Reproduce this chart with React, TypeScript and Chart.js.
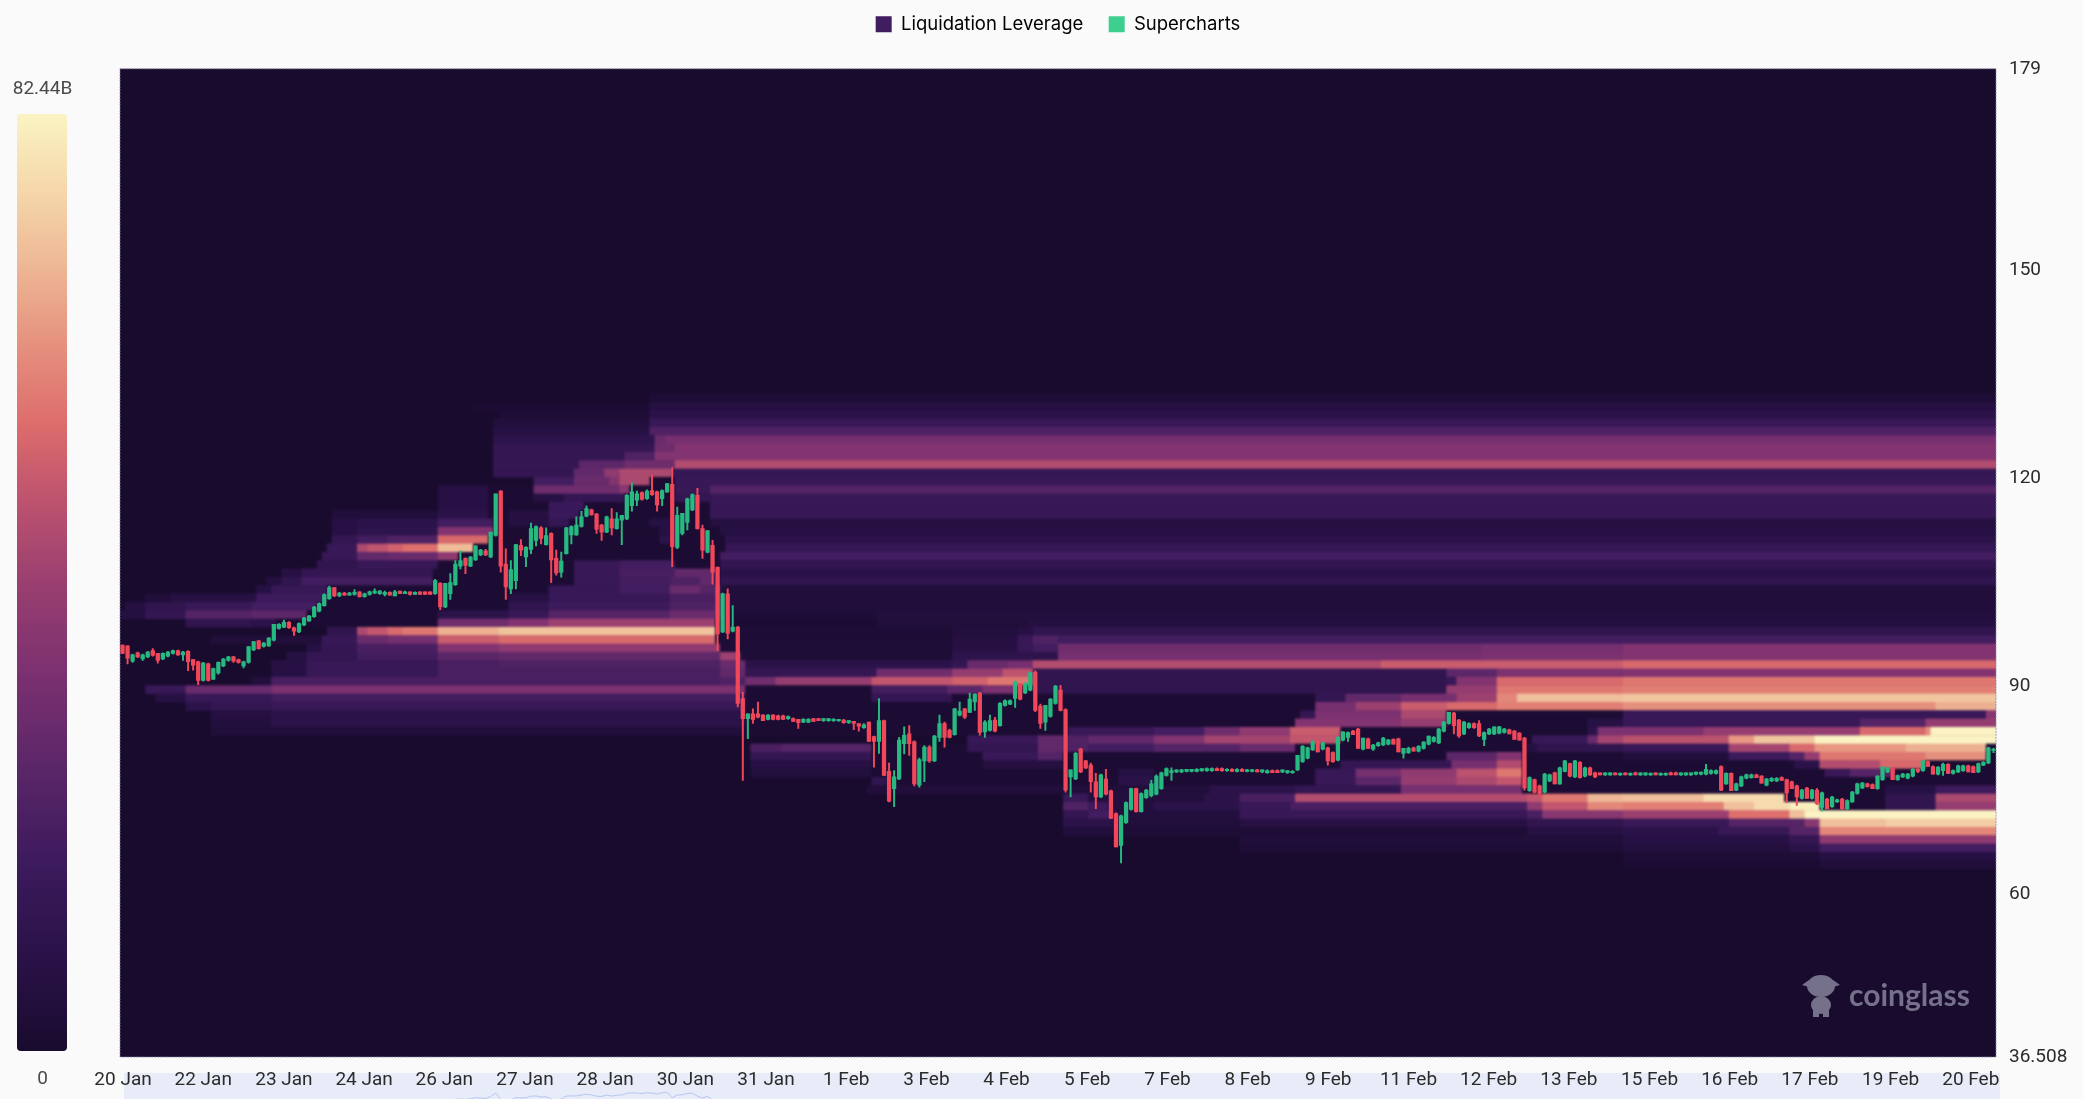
import React, { useEffect, useRef } from "react";
import { Chart, registerables } from "chart.js";

Chart.register(...registerables);

const legendNames = ["Liquidation Leverage", "Supercharts"];
const legendColors = ["#3f1d5e", "#3ccf8e"];
const xLabels = ["20 Jan", "22 Jan", "23 Jan", "24 Jan", "26 Jan", "27 Jan", "28 Jan", "30 Jan", "31 Jan", "1 Feb", "3 Feb", "4 Feb", "5 Feb", "7 Feb", "8 Feb", "9 Feb", "11 Feb", "12 Feb", "13 Feb", "15 Feb", "16 Feb", "17 Feb", "19 Feb", "20 Feb"];
const xTicks = [0.6, 16.5, 32.5, 48.4, 64.3, 80.3, 96.2, 112.1, 128.1, 144, 159.9, 175.8, 191.8, 207.7, 223.6, 239.6, 255.5, 271.4, 287.3, 303.3, 319.2, 335.1, 351.1, 367];
const yTicks = [179, 150, 120, 90, 60, 36.508];
const slotCount = 372;
const rowStep = 1.2;

// colour bar, level 0-100
const colorStops: [number, string][] = [
  [0, "#190b2e"], [10, "#2a1248"], [20, "#3c1a5c"], [30, "#5a2668"], [40, "#7a3070"], [50, "#9a3f70"],
  [60, "#c2566e"], [67, "#dd6d6c"], [75, "#e58f7d"], [84, "#eeb896"], [92, "#f5d8ab"], [100, "#fbf3c3"],
];

// heat rows: top price of the row, then [from slot, level] steps
const heatRows: [number, [number, number][]][] = [
  [132.16, [[105, 2]]],
  [130.96, [[70, 1], [105, 5]]],
  [129.76, [[75, 2], [105, 8]]],
  [128.56, [[74, 4], [105, 14]]],
  [127.36, [[74, 6], [105, 22]]],
  [126.15, [[74, 9], [106, 30], [108, 34]]],
  [124.95, [[74, 12], [106, 32], [110, 38]]],
  [123.75, [[74, 12], [100, 22], [106, 38]]],
  [122.55, [[74, 13], [91, 26], [100, 32], [110, 52]]],
  [121.35, [[74, 12], [90, 28], [96, 42], [99, 50], [109.5, 13]]],
  [120.15, [[82, 18], [90, 30], [97, 38], [99, 50], [105, 1], [110, 14]]],
  [118.94, [[63, 6], [73, 1], [82, 32], [99, 40], [101, 1], [110, 14], [117, 24]]],
  [117.74, [[63, 6], [73, 1], [82, 6], [88, 12], [100, 1], [110, 12], [117, 14]]],
  [116.54, [[63, 6], [73, 1], [85, 15], [92, 1], [117, 14]]],
  [115.34, [[42, 3], [63, 8], [73, 1], [77, 5], [85, 15], [91, 1], [117, 14]]],
  [114.14, [[42, 6], [47, 8], [63, 18], [74, 1], [77, 5], [85, 12], [89, 1], [105, 6], [110, 1], [117, 5]]],
  [112.94, [[42, 6], [47, 9], [63, 38], [74, 1], [107, 6], [110, 1], [119, 6]]],
  [111.73, [[42, 12], [47, 18], [53, 22], [63, 62], [73, 1], [107, 8], [110, 1], [120, 8]]],
  [110.53, [[41, 14], [47, 50], [49, 55], [53, 60], [56, 64], [63, 83], [70, 1], [120, 13]]],
  [109.33, [[40, 14], [47, 28], [53, 30], [63, 42], [67, 1], [119, 18]]],
  [108.13, [[39, 10], [47, 14], [63, 1], [90, 14], [99, 18], [110, 1], [119, 11]]],
  [106.93, [[32, 6], [36, 12], [62, 1], [90, 14], [99, 20], [110, 28], [118, 1], [119, 7]]],
  [105.73, [[29, 5], [32, 10], [36, 18], [62, 1], [90, 14], [99, 18], [109, 22], [115, 28], [118, 1], [119, 10]]],
  [104.52, [[27, 6], [30, 14], [41, 1], [85, 14], [99, 18], [109, 30], [115, 24], [118, 30], [119, 3]]],
  [103.32, [[5, 3], [10, 6], [27, 16], [41, 1], [77, 6], [85, 14], [109, 20], [118, 30], [119, 3]]],
  [102.12, [[1, 5], [5, 10], [13, 14], [26, 18], [39, 1], [77, 10], [85, 16], [109, 22], [118, 30], [119, 3]]],
  [100.92, [[0, 5], [5, 12], [13, 24], [26, 26], [37, 1], [63, 8], [77, 14], [85, 24], [109, 30], [118, 32], [119, 2], [150, 4]]],
  [99.72, [[13, 10], [26, 8], [31, 1], [63, 32], [77, 38], [85, 46], [118, 1], [150, 3], [180, 5]]],
  [98.52, [[41, 10], [47, 50], [49, 56], [53, 62], [56, 66], [63, 80], [75, 85], [118, 2], [165, 4], [178, 6], [181, 10]]],
  [97.31, [[18, 3], [40, 14], [47, 30], [53, 34], [63, 58], [75, 62], [118, 2], [165, 5], [178, 14], [181, 22], [186, 18]]],
  [96.11, [[37, 6], [40, 12], [47, 20], [63, 38], [75, 42], [119, 2], [165, 6], [178, 14], [181, 18], [186, 32], [270, 34], [298, 38]]],
  [94.91, [[33, 6], [37, 12], [47, 18], [63, 26], [75, 28], [119, 46], [123, 2], [165, 9], [186, 34], [270, 36], [298, 38]]],
  [93.71, [[30, 6], [37, 14], [63, 20], [75, 22], [119, 30], [124, 8], [165, 12], [168, 30], [176, 34], [181, 52], [250, 58], [298, 62]]],
  [92.51, [[30, 6], [37, 14], [63, 20], [119, 28], [124, 12], [150, 32], [165, 44], [175, 55], [181, 10], [263, 26], [273, 36], [298, 38]]],
  [91.31, [[26, 4], [30, 20], [119, 22], [124, 32], [130, 44], [149, 56], [165, 60], [172, 66], [181, 10], [263, 14], [265, 38], [273, 62], [298, 66]]],
  [90.1, [[5, 14], [13, 30], [30, 36], [124, 1], [149, 18], [164, 26], [171, 36], [178, 1], [181, 10], [263, 44], [273, 66], [298, 68]]],
  [88.9, [[7, 6], [13, 14], [30, 18], [124, 1], [149, 12], [165, 1], [237, 12], [243, 28], [254, 34], [265, 46], [273, 70], [277, 84], [298, 86]]],
  [87.7, [[13, 8], [18, 12], [30, 14], [124, 1], [237, 34], [245, 46], [254, 58], [263, 62], [273, 68], [298, 72], [360, 80]]],
  [86.5, [[18, 5], [30, 8], [124, 1], [234, 12], [237, 36], [254, 50], [263, 1], [298, 14], [358, 14], [370, 40]]],
  [85.3, [[18, 4], [30, 8], [124, 1], [233, 38], [254, 44], [263, 1], [291, 6], [298, 14], [345, 24], [358, 44]]],
  [84.1, [[18, 3], [124, 1], [188, 14], [205, 18], [215, 32], [222, 42], [232, 58], [242, 1], [291, 8], [293, 36], [314, 44], [345, 62], [358, 72], [359, 100]]],
  [82.89, [[168, 14], [182, 28], [187, 22], [192, 28], [205, 38], [215, 48], [232, 56], [242, 1], [280, 14], [291, 30], [293, 48], [298, 54], [319, 74], [324, 86], [336, 100]]],
  [81.69, [[125, 20], [131, 24], [149, 1], [168, 12], [182, 28], [187, 22], [192, 18], [205, 24], [222, 30], [233, 1], [279, 5], [281, 10], [298, 14], [319, 48], [331, 62], [336, 74], [354, 80], [370, 2]]],
  [80.49, [[125, 12], [149, 1], [171, 14], [182, 24], [187, 1], [263, 26], [273, 38], [278, 1], [298, 4], [319, 16], [331, 24], [334, 44], [337, 66], [358, 72], [370, 1]]],
  [79.29, [[125, 6], [149, 1], [171, 5], [187, 1], [242, 12], [264, 34], [273, 52], [278, 1], [332, 8], [337, 52], [349, 62], [358, 1]]],
  [78.09, [[125, 4], [149, 1], [198, 6], [205, 1], [237, 14], [245, 34], [254, 42], [265, 54], [273, 66], [278, 1], [338, 14], [343, 24], [352, 1]]],
  [76.89, [[149, 10], [152, 1], [198, 8], [205, 1], [237, 14], [245, 26], [254, 44], [265, 50], [273, 56], [278, 1]]],
  [75.68, [[148, 3], [216, 8], [233, 12], [254, 34], [278, 1], [350, 6], [360, 16]]],
  [74.48, [[187, 14], [192, 4], [215, 8], [222, 20], [233, 52], [279, 56], [282, 66], [291, 82], [298, 84], [314, 92], [330, 1], [350, 10], [360, 50]]],
  [73.28, [[187, 22], [192, 16], [196, 4], [205, 8], [222, 14], [232, 20], [279, 42], [282, 56], [291, 70], [298, 68], [318, 84], [324, 92], [331, 98], [337, 1], [350, 10], [360, 44]]],
  [72.08, [[187, 12], [192, 18], [197, 4], [222, 14], [279, 20], [282, 40], [298, 46], [319, 64], [331, 84], [334, 100]]],
  [70.88, [[187, 8], [197, 3], [222, 6], [279, 10], [298, 14], [319, 24], [334, 40], [337, 84], [350, 88]]],
  [69.68, [[187, 4], [197, 2], [279, 6], [298, 8], [317, 14], [331, 24], [337, 70]]],
  [68.47, [[222, 3], [298, 6], [331, 12], [337, 42]]],
  [67.27, [[222, 2], [298, 4], [331, 8], [337, 18]]],
  [66.07, [[298, 2], [337, 6]]],
  [64.87, [[298, 1], [337, 3]]],
];

// candles, [open, high, low, close], one slot each
const candlesJan: number[][] = [
  [95.9, 95.9, 94.7, 94.7], [95.8, 95.8, 93.2, 94.0], [93.6, 94.6, 93.4, 94.5], [94.8, 94.9, 94.1, 94.2], [93.9, 94.6, 93.7, 94.5],
  [94.2, 95.0, 94.1, 94.9], [95.1, 95.4, 94.3, 94.4], [94.7, 94.7, 93.3, 93.7], [93.9, 94.8, 93.8, 94.7], [94.3, 95.0, 94.2, 94.9],
  [94.7, 95.2, 94.6, 95.1], [95.1, 95.2, 94.4, 94.5], [94.5, 95.0, 93.7, 94.9], [95.0, 95.1, 92.2, 93.5], [93.8, 93.8, 92.3, 93.0],
  [93.5, 93.6, 90.2, 90.8], [90.8, 93.4, 90.7, 93.3], [93.2, 93.3, 90.7, 90.8], [91.0, 92.6, 90.9, 92.5], [91.9, 93.5, 91.7, 93.4],
  [92.9, 94.0, 92.8, 93.9], [93.7, 94.3, 93.6, 94.2], [94.2, 94.3, 93.4, 93.6], [93.8, 93.9, 93.3, 93.4], [92.9, 93.6, 92.6, 93.5],
  [93.4, 95.7, 93.3, 95.7], [95.2, 96.4, 95.1, 96.4], [96.5, 96.6, 95.3, 95.4], [95.7, 96.3, 95.6, 96.2], [95.8, 97.0, 95.7, 96.9],
  [96.6, 98.9, 96.5, 98.9], [98.3, 99.0, 98.2, 98.9], [98.5, 99.5, 98.4, 99.2], [99.2, 99.3, 98.3, 98.4], [98.4, 98.5, 97.3, 97.9],
  [97.8, 99.1, 97.7, 99.0], [98.8, 99.9, 98.7, 99.8], [99.4, 100.2, 99.3, 100.1], [100.0, 101.5, 99.9, 101.4], [100.8, 102.0, 100.7, 101.9],
  [101.6, 103.3, 101.5, 103.2], [102.6, 104.4, 102.5, 104.2], [104.2, 104.2, 102.9, 103.0], [103.0, 103.5, 102.9, 103.4], [103.4, 103.5, 103.1, 103.1],
  [103.1, 103.5, 103.1, 103.4], [103.2, 103.9, 103.1, 103.5], [103.6, 103.6, 102.8, 102.9], [102.9, 103.4, 102.8, 103.3], [103.2, 103.7, 103.1, 103.6],
  [103.4, 104.0, 103.3, 103.7], [103.3, 103.8, 103.2, 103.7], [103.2, 103.7, 103.0, 103.5], [103.5, 103.6, 103.1, 103.1], [103.0, 103.8, 103.0, 103.6],
  [103.7, 103.7, 103.3, 103.3], [103.3, 103.7, 103.3, 103.6], [103.6, 103.6, 103.1, 103.2], [103.2, 103.6, 103.2, 103.5], [103.6, 103.6, 103.2, 103.2],
  [103.6, 103.6, 103.2, 103.2], [103.6, 103.6, 103.2, 103.2], [103.3, 105.4, 103.2, 105.2], [104.8, 104.9, 101.0, 101.4], [101.4, 104.8, 101.3, 104.8],
  [103.3, 106.2, 102.5, 104.9], [104.6, 108.1, 104.5, 107.6], [107.3, 109.5, 106.9, 108.1], [108.4, 108.5, 106.2, 107.4], [107.3, 108.7, 107.2, 108.6],
  [108.2, 110.2, 108.1, 110.2], [108.9, 109.7, 108.8, 109.6], [109.5, 109.7, 108.8, 108.9], [108.6, 112.2, 108.5, 112.2], [111.7, 117.7, 111.6, 117.7],
  [118.1, 118.2, 106.4, 107.3], [107.6, 109.8, 102.5, 104.3], [104.0, 108.1, 103.3, 106.8], [105.2, 110.4, 104.0, 110.4], [110.3, 111.1, 108.8, 109.6],
  [108.6, 110.1, 107.2, 110.0], [109.7, 113.5, 109.1, 112.7], [111.0, 113.1, 110.2, 113.0], [112.8, 113.0, 110.5, 111.3], [110.4, 112.8, 110.3, 111.7],
  [112.0, 112.1, 104.9, 108.2], [108.4, 109.6, 106.0, 106.3], [106.4, 109.3, 105.7, 108.0], [109.1, 112.9, 109.0, 112.8], [111.8, 113.1, 110.5, 113.0],
  [111.8, 114.4, 111.7, 113.2], [113.0, 115.2, 112.9, 114.4], [114.5, 116.0, 114.4, 115.6], [115.4, 115.5, 114.6, 114.7], [114.8, 114.9, 112.0, 112.6],
  [113.2, 113.3, 111.0, 112.2], [112.2, 114.5, 112.1, 114.4], [114.1, 115.6, 111.8, 112.8], [112.7, 115.0, 112.6, 114.1], [113.9, 114.6, 110.4, 114.6],
  [114.1, 117.6, 114.0, 117.5], [116.0, 119.3, 115.2, 118.0], [116.8, 118.1, 116.0, 117.7], [117.9, 118.0, 116.8, 116.9], [117.0, 118.3, 116.9, 118.1],
  [118.2, 120.4, 117.5, 117.6], [118.0, 118.1, 115.2, 116.1], [117.0, 118.3, 116.0, 118.2], [118.0, 119.2, 117.9, 119.2], [119.1, 121.5, 107.2, 110.1],
  [110.0, 115.8, 109.8, 114.6], [112.0, 114.9, 111.8, 114.9], [113.6, 117.1, 112.5, 117.0], [115.4, 117.7, 115.3, 117.6], [117.5, 118.5, 112.6, 112.7],
  [112.7, 113.2, 108.4, 109.6], [109.3, 112.4, 109.2, 112.4], [110.3, 111.0, 104.7, 106.4], [107.1, 107.2, 95.1, 97.5], [97.8, 103.4, 97.7, 103.3],
  [103.3, 104.0, 96.8, 97.6], [97.9, 101.6, 97.8, 98.5], [98.5, 98.6, 87.0, 87.5], [88.2, 89.1, 76.4, 85.3], [85.3, 86.0, 82.4, 86.0],
  [86.0, 86.7, 84.6, 85.2], [86.0, 87.7, 85.4, 85.5], [85.8, 85.9, 85.0, 85.0],
];
const candlesFeb1: number[][] = [
  [85.2, 85.9, 85.1, 85.8], [85.8, 85.9, 85.1, 85.2], [85.7, 85.8, 85.1, 85.2], [85.7, 85.8, 85.2, 85.2], [85.3, 85.7, 85.2, 85.6],
  [85.3, 85.4, 84.9, 84.9], [85.2, 85.2, 83.9, 84.7], [84.8, 85.3, 84.7, 85.2], [84.8, 85.3, 84.7, 85.2], [85.3, 85.3, 84.9, 84.9],
  [85.3, 85.3, 85.0, 85.0], [85.0, 85.3, 84.9, 85.3], [85.0, 85.3, 84.9, 85.3], [85.0, 85.3, 84.9, 85.2], [85.0, 85.2, 84.9, 85.2],
  [85.1, 85.2, 84.6, 84.7], [84.7, 85.0, 84.6, 85.0], [84.9, 84.9, 83.7, 84.6], [84.6, 84.6, 83.5, 84.2], [84.0, 84.6, 83.9, 84.4],
  [84.8, 84.8, 82.0, 82.0], [82.7, 82.8, 78.3, 82.0], [82.0, 88.2, 80.3, 85.0], [85.0, 85.1, 77.1, 77.1], [77.7, 78.9, 73.3, 73.4],
  [75.2, 77.8, 72.6, 76.9], [76.6, 82.6, 76.5, 82.2], [81.7, 84.1, 80.2, 82.9], [83.1, 84.3, 80.0, 81.7], [82.0, 82.1, 75.6, 75.9],
  [75.7, 79.6, 75.4, 79.4], [79.2, 81.4, 76.2, 81.2], [81.2, 81.4, 79.0, 79.2], [79.2, 82.9, 79.1, 82.8], [82.6, 85.8, 82.0, 84.6],
  [84.6, 84.8, 81.2, 82.6], [83.6, 83.8, 82.5, 82.6], [83.0, 86.8, 82.9, 86.7], [85.8, 87.7, 85.7, 86.4], [86.7, 86.8, 85.3, 85.5],
  [86.2, 89.0, 86.2, 88.1], [87.7, 88.9, 86.5, 88.8], [89.0, 89.1, 82.9, 83.3], [83.4, 85.0, 82.6, 84.8], [83.6, 85.8, 83.5, 85.0],
  [85.1, 85.5, 83.4, 83.5], [84.3, 87.6, 84.2, 87.5], [87.2, 88.0, 87.1, 87.9], [87.4, 88.0, 87.3, 87.9], [88.2, 90.7, 86.9, 90.6],
  [90.3, 90.4, 88.0, 88.1], [89.0, 90.5, 88.9, 90.4], [89.4, 92.0, 89.3, 91.9], [92.0, 92.2, 86.3, 86.5], [87.1, 87.4, 83.9, 84.6],
  [84.8, 87.2, 83.6, 87.2], [85.6, 88.2, 85.5, 88.1], [87.5, 90.1, 87.4, 90.0], [89.4, 90.1, 86.4, 86.5], [86.6, 86.7, 74.7, 75.0],
  [76.9, 77.9, 74.0, 77.9], [76.6, 80.4, 76.5, 80.3], [80.9, 81.0, 77.5, 77.6], [79.2, 79.3, 78.1, 78.2], [78.6, 78.9, 74.7, 76.2],
  [76.2, 77.4, 72.3, 74.0], [74.0, 77.3, 73.9, 77.2], [76.6, 78.0, 74.3, 74.4], [74.9, 75.0, 70.9, 70.9], [71.6, 71.7, 66.8, 66.8],
  [67.0, 71.4, 64.5, 71.3], [70.3, 73.3, 70.2, 73.2], [72.2, 75.3, 72.1, 75.2], [75.2, 75.3, 71.8, 71.9], [71.9, 74.6, 71.8, 74.5],
  [73.9, 75.1, 73.8, 75.0], [74.2, 76.4, 74.0, 75.9], [74.4, 77.2, 74.3, 77.0], [75.2, 77.6, 75.1, 77.5], [77.1, 78.2, 77.0, 78.1],
  [77.5, 78.2, 76.4, 77.8],
];
const candlesFlat8Feb: number[][] = [
  [77.6, 77.9, 77.5, 77.9], [77.6, 78.0, 77.5, 77.9], [77.7, 78.0, 77.6, 78.0], [77.7, 78.0, 77.6, 78.0], [77.7, 78.1, 77.6, 78.0],
  [77.8, 78.1, 77.7, 78.1], [77.8, 78.2, 77.7, 78.1], [77.8, 78.2, 77.7, 78.1], [78.1, 78.2, 77.8, 77.8], [78.1, 78.2, 77.7, 77.8],
  [77.8, 78.1, 77.7, 78.0], [78.0, 78.1, 77.7, 77.7], [77.7, 78.1, 77.6, 78.0], [78.0, 78.1, 77.7, 77.7], [77.7, 78.0, 77.6, 77.9],
  [77.7, 78.0, 77.6, 77.9], [77.9, 78.0, 77.6, 77.6], [77.6, 77.9, 77.5, 77.9], [77.5, 77.9, 77.4, 77.8], [77.8, 77.9, 77.5, 77.5],
  [77.8, 77.9, 77.5, 77.5], [77.6, 77.9, 77.5, 77.9], [77.5, 77.8, 77.4, 77.8], [77.5, 77.8, 77.4, 77.7],
];
const candles9Feb: number[][] = [
  [77.9, 80.0, 77.8, 80.0], [79.1, 81.4, 79.0, 81.3], [79.6, 81.2, 79.5, 81.1], [80.8, 82.1, 80.7, 82.0], [82.0, 82.2, 80.5, 80.5],
  [80.9, 81.9, 80.8, 81.8], [81.1, 81.2, 78.6, 79.2], [80.4, 80.5, 79.0, 79.1], [79.3, 82.7, 79.2, 82.6], [82.2, 83.4, 82.1, 83.4],
  [82.6, 83.4, 82.0, 83.3], [83.5, 83.6, 83.0, 83.0], [83.8, 83.9, 81.0, 81.0], [80.9, 82.5, 80.8, 82.5], [82.4, 82.5, 81.0, 81.0],
  [80.9, 81.6, 80.7, 81.5], [81.4, 81.9, 81.3, 81.8], [81.5, 82.6, 81.4, 82.5], [81.6, 82.3, 81.5, 82.2], [82.3, 82.4, 81.6, 81.6],
  [82.4, 82.5, 80.5, 80.5], [80.3, 81.0, 79.6, 81.0], [80.4, 81.2, 80.3, 81.0], [81.1, 81.2, 80.6, 80.6], [80.6, 81.4, 80.5, 81.3],
  [81.0, 82.0, 80.9, 81.9], [81.6, 82.8, 81.5, 82.8], [82.0, 82.7, 81.9, 82.6], [81.8, 83.9, 81.7, 83.8], [83.5, 84.9, 83.4, 84.8],
  [84.6, 86.2, 84.5, 86.2], [86.1, 86.2, 83.1, 84.3], [85.1, 85.2, 82.6, 82.8], [83.1, 84.9, 83.0, 84.8], [84.0, 84.7, 83.9, 84.6],
  [84.6, 84.7, 83.9, 84.0], [84.6, 85.0, 82.7, 82.8], [82.3, 83.4, 81.4, 83.3], [83.1, 83.9, 83.0, 83.8], [83.1, 84.1, 83.0, 84.1],
  [83.2, 84.2, 83.1, 84.1], [83.3, 83.9, 83.2, 83.8], [83.7, 83.8, 83.1, 83.1], [83.5, 83.6, 82.3, 82.3], [83.2, 83.3, 82.2, 82.2],
  [82.5, 82.6, 75.0, 75.3], [74.9, 76.9, 74.8, 76.8], [76.5, 76.6, 74.6, 74.7], [75.6, 75.7, 74.0, 74.5], [74.7, 77.4, 74.6, 77.3],
  [76.3, 77.3, 76.2, 77.2], [77.5, 77.6, 75.9, 75.9], [75.9, 78.3, 75.8, 78.2], [77.7, 79.3, 77.6, 79.2], [78.8, 78.9, 76.9, 77.0],
  [76.9, 79.3, 76.8, 79.2], [79.0, 79.1, 76.7, 76.8], [77.0, 78.3, 76.9, 78.2], [78.2, 78.3, 77.1, 77.2], [77.5, 77.6, 76.8, 76.9],
];
const candlesFlat14Feb: number[][] = [
  [77.5, 77.5, 77.2, 77.2], [77.2, 77.5, 77.1, 77.5], [77.2, 77.5, 77.1, 77.5], [77.5, 77.5, 77.2, 77.2], [77.2, 77.5, 77.1, 77.4],
  [77.5, 77.5, 77.2, 77.2], [77.2, 77.5, 77.1, 77.4], [77.5, 77.6, 77.2, 77.2], [77.2, 77.5, 77.1, 77.5], [77.2, 77.5, 77.1, 77.5],
  [77.2, 77.5, 77.1, 77.4], [77.5, 77.5, 77.2, 77.2], [77.2, 77.5, 77.1, 77.4], [77.2, 77.5, 77.1, 77.4], [77.5, 77.6, 77.2, 77.2],
  [77.5, 77.6, 77.2, 77.2], [77.2, 77.5, 77.1, 77.5], [77.2, 77.5, 77.1, 77.5], [77.2, 77.5, 77.1, 77.5], [77.3, 77.6, 77.2, 77.6],
  [77.3, 77.6, 77.2, 77.6],
];
const candles16Feb: number[][] = [
  [77.3, 78.7, 77.2, 78.0], [77.4, 77.9, 77.3, 77.8], [77.4, 77.9, 77.3, 77.8], [78.4, 78.5, 74.9, 75.0], [75.9, 77.5, 75.8, 77.4],
  [77.4, 77.5, 74.9, 74.9], [75.0, 76.0, 74.9, 75.9], [75.6, 77.0, 75.5, 76.9], [76.7, 77.3, 76.6, 77.2], [76.8, 77.3, 76.7, 77.2],
  [77.2, 77.3, 76.8, 76.8], [77.0, 77.1, 76.0, 76.0], [75.7, 76.7, 75.6, 76.6], [76.3, 76.8, 76.2, 76.7], [76.3, 76.8, 76.2, 76.7],
  [76.8, 76.9, 76.4, 76.4], [76.5, 76.6, 73.2, 74.6], [76.2, 76.3, 75.2, 75.2], [75.6, 75.7, 72.8, 74.0], [73.8, 75.1, 73.7, 75.0],
  [75.3, 75.4, 73.8, 73.8], [73.8, 75.1, 73.7, 75.0], [75.0, 75.2, 72.9, 73.0], [72.5, 74.7, 72.0, 74.6], [73.7, 73.8, 72.3, 72.3],
  [72.6, 74.1, 72.5, 74.0], [73.3, 73.7, 73.2, 73.6], [73.7, 73.8, 72.2, 72.3], [72.3, 73.6, 72.2, 73.5], [73.3, 74.8, 73.2, 74.7],
  [74.5, 76.0, 74.4, 75.9], [75.3, 76.1, 75.2, 76.0], [75.9, 76.0, 75.4, 75.5], [75.8, 75.9, 75.2, 75.2], [75.2, 77.1, 75.1, 77.0],
  [76.5, 78.4, 76.4, 78.3], [77.6, 78.3, 77.5, 78.2], [78.1, 78.2, 76.5, 76.5], [76.5, 77.2, 76.4, 77.1], [76.9, 77.4, 76.8, 77.3],
  [76.7, 77.4, 76.6, 77.3], [77.0, 78.1, 76.9, 78.0], [78.0, 78.1, 77.5, 77.7], [77.8, 79.2, 77.7, 79.2], [79.1, 79.2, 78.4, 78.4],
  [78.4, 78.5, 77.3, 77.3], [77.3, 78.4, 77.2, 78.3], [77.8, 78.9, 77.1, 78.7], [78.7, 78.8, 77.4, 77.4], [77.4, 77.9, 77.3, 77.8],
  [77.6, 78.6, 77.5, 78.5], [77.8, 78.6, 77.7, 78.5], [78.5, 78.6, 77.6, 77.6], [78.4, 78.5, 77.5, 77.5], [77.6, 78.9, 77.5, 78.8],
  [78.6, 79.1, 78.5, 79.0], [78.9, 81.2, 78.8, 81.1], [80.7, 81.0, 80.4, 80.9],
];

const candleRuns: [number, number[][]][] = [
  [0, candlesJan],
  [128, candlesFeb1],
  [209, candlesFlat8Feb],
  [233, candles9Feb],
  [293, candlesFlat14Feb],
  [314, candles16Feb],
];
const candles = candleRuns.flatMap(([start, rows]) =>
  rows.map((r, i) => ({ x: start + i + 0.5, o: r[0], h: r[1], l: r[2], c: r[3] }))
);

const upColor = "#27b981";
const downColor = "#f0485a";
const tickFont = { family: "Roboto", size: 19 };

const hexToRgb = (hex: string) => [1, 3, 5].map((i) => parseInt(hex.slice(i, i + 2), 16));

const heatColor = (rawLevel: number) => {
  // the cells sit a little brighter than the legend ramp
  const level = 100 * Math.pow(rawLevel / 100, 0.88);
  for (let i = 1; i < colorStops.length; i++) {
    if (level <= colorStops[i][0]) {
      const [l0, c0] = colorStops[i - 1];
      const [l1, c1] = colorStops[i];
      const t = (level - l0) / (l1 - l0);
      const a = hexToRgb(c0);
      const b = hexToRgb(c1);
      return `rgb(${a.map((v, k) => Math.round(v + (b[k] - v) * t)).join(",")})`;
    }
  }
  return colorStops[colorStops.length - 1][1];
};

// legend needs some air below it before the plot starts
const legendGap = {
  id: "legendGap",
  beforeInit(chart: any) {
    const fit = chart.legend.fit;
    chart.legend.fit = function () {
      fit.bind(chart.legend)();
      this.height += 25.3;
    };
  },
};

const heatmap = {
  id: "heatmap",
  beforeDraw(chart: any) {
    // range slider strip under the axis
    const { ctx, scales } = chart;
    ctx.save();
    ctx.fillStyle = "#e7ecf8";
    ctx.fillRect(124, 1073, 1876, 26);
    ctx.beginPath();
    candles.forEach((d, i) => {
      const px = scales.x.getPixelForValue(d.x);
      const py = 1091 + (121 - d.c) * 0.62;
      if (i === 0) ctx.moveTo(px, py);
      else ctx.lineTo(px, py);
    });
    ctx.lineWidth = 1;
    ctx.strokeStyle = "#b4c6f2";
    ctx.stroke();
    ctx.restore();
  },
  beforeDatasetsDraw(chart: any) {
    const { ctx, chartArea, scales } = chart;
    // cells go on a scratch canvas first so they can be softened together
    const layer = document.createElement("canvas");
    layer.width = chart.width;
    layer.height = chart.height;
    const lc = layer.getContext("2d") as CanvasRenderingContext2D;
    lc.fillStyle = colorStops[0][1];
    lc.fillRect(chartArea.left - 6, chartArea.top - 6, chartArea.width + 12, chartArea.height + 12);
    heatRows.forEach(([top, spans]) => {
      const y0 = scales.y.getPixelForValue(top);
      const y1 = scales.y.getPixelForValue(top - rowStep);
      spans.forEach(([from, level], i) => {
        const to = i + 1 < spans.length ? spans[i + 1][0] : slotCount + 2;
        const x0 = scales.x.getPixelForValue(from);
        const x1 = scales.x.getPixelForValue(to);
        lc.fillStyle = heatColor(level);
        lc.fillRect(x0, y0, x1 - x0 + 0.5, y1 - y0 + 0.5);
      });
    });
    ctx.save();
    ctx.beginPath();
    ctx.rect(chartArea.left, chartArea.top, chartArea.width, chartArea.height);
    ctx.clip();
    ctx.filter = "blur(1.2px)";
    ctx.drawImage(layer, 0, 0);
    ctx.restore();
    ctx.save();
    ctx.strokeStyle = "rgba(140,135,160,0.8)";
    ctx.lineWidth = 1;
    ctx.setLineDash([2, 1]);
    ctx.strokeRect(chartArea.left, chartArea.top, chartArea.width, chartArea.height);
    ctx.restore();
  },
  afterDatasetsDraw(chart: any) {
    // coinglass watermark
    const { ctx, chartArea } = chart;
    const cx = chartArea.right - 175;
    const cy = chartArea.bottom - 60;
    ctx.save();
    ctx.fillStyle = "#76718a";
    ctx.beginPath();
    ctx.ellipse(cx, cy - 11, 14, 11, 0, 0, Math.PI * 2);
    ctx.fill();
    ctx.beginPath();
    ctx.moveTo(cx - 12, cy - 17);
    ctx.lineTo(cx - 19, cy - 12);
    ctx.lineTo(cx - 9, cy - 9);
    ctx.moveTo(cx + 12, cy - 17);
    ctx.lineTo(cx + 19, cy - 12);
    ctx.lineTo(cx + 9, cy - 9);
    ctx.fill();
    ctx.beginPath();
    ctx.ellipse(cx, cy + 8, 10, 9, 0, 0, Math.PI * 2);
    ctx.fill();
    ctx.fillRect(cx - 8, cy + 10, 6, 10);
    ctx.fillRect(cx + 2, cy + 10, 6, 10);
    ctx.font = "bold 30px Lato";
    ctx.textBaseline = "middle";
    ctx.fillText("coinglass", cx + 28, cy - 1);
    ctx.restore();
  },
};

const App = () => {
  const chartRef = useRef<HTMLCanvasElement | null>(null);
  const chartInstanceRef = useRef<Chart | null>(null);

  useEffect(() => {
    document.body.style.margin = "0";
    const ctx = chartRef.current?.getContext("2d");
    if (!ctx) return;

    const colors = candles.map((d) => (d.c >= d.o ? upColor : downColor));

    chartInstanceRef.current = new Chart(ctx, {
      type: "bar",
      data: {
        datasets: [
          {
            label: "Wicks",
            data: candles.map((d) => ({ x: d.x, y: [d.l, d.h] })),
            backgroundColor: colors,
            barThickness: 1.3,
            grouped: false,
          },
          {
            label: "Bodies",
            data: candles.map((d) => ({ x: d.x, y: [d.o, d.c] })),
            backgroundColor: colors,
            barThickness: 3.6,
            grouped: false,
          },
        ] as any,
      },
      options: {
        responsive: false,
        animation: false,
        layout: { padding: { left: 120 } },
        scales: {
          x: {
            type: "linear",
            offset: false,
            min: 0,
            max: slotCount,
            grid: { display: false },
            border: { display: false },
            afterBuildTicks: (axis: any) => {
              axis.ticks = xTicks.map((value) => ({ value }));
            },
            afterFit: (axis: any) => {
              axis.height = 42;
            },
            ticks: {
              autoSkip: false,
              maxRotation: 0,
              padding: 4,
              color: "#2b2b2b",
              font: tickFont,
              callback: (_v: any, i: number) => xLabels[i],
            },
          },
          y: {
            type: "linear",
            position: "right",
            min: 36.508,
            max: 179,
            grid: { display: false },
            border: { display: false },
            afterBuildTicks: (axis: any) => {
              axis.ticks = yTicks.map((value) => ({ value }));
            },
            afterFit: (axis: any) => {
              axis.width = 87;
            },
            ticks: {
              autoSkip: false,
              padding: 5,
              color: "#2b2b2b",
              font: tickFont,
              callback: (v: any) => String(v),
            },
          },
        },
        plugins: {
          tooltip: { enabled: false },
          legend: {
            position: "top",
            fullSize: false,
            onClick: () => {},
            labels: {
              boxWidth: 16,
              boxHeight: 16,
              padding: 15,
              color: "#555555",
              font: { family: "Inter", size: 18.5 },
              generateLabels: () =>
                legendNames.map((text, i) => ({
                  text: i === 0 ? text + "  " : text,
                  fillStyle: legendColors[i],
                  strokeStyle: legendColors[i],
                  lineWidth: 0,
                  datasetIndex: i,
                })),
            },
          },
        },
      } as any,
      plugins: [legendGap, heatmap],
    });

    return () => {
      if (chartInstanceRef.current) {
        chartInstanceRef.current.destroy();
      }
    };
  }, []);

  return (
    <div style={{ position: "absolute", left: 0, top: 0, width: 2083, height: 1099, background: "#fafafa", overflow: "hidden", fontFamily: "Roboto", fontSize: 19, color: "#4a4a4a" }}>
      <canvas ref={chartRef} width={2083} height={1099} style={{ display: "block", position: "absolute", left: 0, top: 0 }}></canvas>
      <div style={{ position: "absolute", left: 0, width: 85, top: 76, textAlign: "center" }}>82.44B</div>
      <div style={{ position: "absolute", left: 17, top: 114, width: 50, height: 937, borderRadius: 4, background: `linear-gradient(to top, ${colorStops.map(([l, c]) => `${c} ${l}%`).join(", ")})` }}></div>
      <div style={{ position: "absolute", left: 0, width: 85, top: 1066, textAlign: "center" }}>0</div>
    </div>
  );
};

export default App;
